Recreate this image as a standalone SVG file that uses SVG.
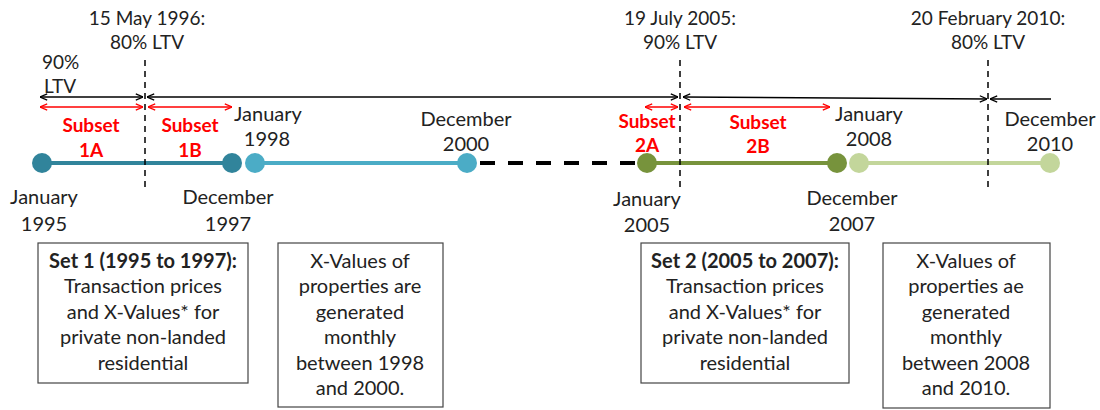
<svg xmlns="http://www.w3.org/2000/svg" width="1100" height="410" viewBox="0 0 1100 410">
<defs>
<style>
text{font-family:Lato,"Liberation Sans",sans-serif;font-size:20px;fill:#222}
.c{text-anchor:middle}
.t{font-size:19px}
.r{fill:#ff0000;font-weight:bold;font-size:19px;text-anchor:middle}
.b{font-weight:bold}
.vd{stroke:#000;stroke-width:1.5;stroke-dasharray:6 5;fill:none}
.bk{stroke:#000;stroke-width:1.5;fill:none}
.rd{stroke:#ff0000;stroke-width:1.5;fill:none}
.box{fill:#fff;stroke:#444;stroke-width:1.2}
</style>
<marker id="ak" viewBox="0 0 10 10" refX="10" refY="5" markerWidth="8" markerHeight="8" markerUnits="userSpaceOnUse" orient="auto-start-reverse">
<path d="M1,1 L10,5 L1,9" fill="none" stroke="#000" stroke-width="1.6"/>
</marker>
<marker id="ar" viewBox="0 0 10 10" refX="10" refY="5" markerWidth="8" markerHeight="8" markerUnits="userSpaceOnUse" orient="auto-start-reverse">
<path d="M1,1 L10,5 L1,9" fill="none" stroke="#ff0000" stroke-width="1.6"/>
</marker>
</defs>
<rect width="1100" height="410" fill="#fff"/>

<g id="connectors">
<line x1="42" y1="163" x2="232" y2="163" stroke="#31849B" stroke-width="4"/>
<line x1="255" y1="163" x2="467" y2="163" stroke="#4BACC6" stroke-width="4"/>
<line x1="480" y1="163" x2="640" y2="163" stroke="#000" stroke-width="4" stroke-dasharray="15 13"/>
<line x1="647" y1="163" x2="837" y2="163" stroke="#77933C" stroke-width="4"/>
<line x1="859" y1="163" x2="1050" y2="163" stroke="#C3D69B" stroke-width="4"/>
<line class="vd" x1="145" y1="60" x2="145" y2="190"/>
<line class="vd" x1="680" y1="60" x2="680" y2="190"/>
<line class="vd" x1="988" y1="60" x2="988" y2="188"/>
<line class="bk" x1="40" y1="97" x2="143" y2="97" marker-start="url(#ak)" marker-end="url(#ak)"/>
<line class="bk" x1="147" y1="97" x2="678" y2="97" marker-start="url(#ak)" marker-end="url(#ak)"/>
<line class="bk" x1="683" y1="97" x2="987" y2="99" marker-start="url(#ak)" marker-end="url(#ak)"/>
<line class="bk" x1="990" y1="99" x2="1051" y2="99" marker-start="url(#ak)"/>
<line class="rd" x1="40" y1="107" x2="143" y2="107" marker-start="url(#ar)" marker-end="url(#ar)"/>
<line class="rd" x1="148" y1="107" x2="232" y2="107" marker-start="url(#ar)" marker-end="url(#ar)"/>
<line class="rd" x1="645" y1="107" x2="678" y2="107" marker-start="url(#ar)" marker-end="url(#ar)"/>
<line class="rd" x1="684" y1="107" x2="830" y2="107" marker-start="url(#ar)" marker-end="url(#ar)"/>
</g>

<g id="points">
<circle cx="42" cy="163" r="10" fill="#31849B"/>
<circle cx="232" cy="163" r="10" fill="#31849B"/>
<circle cx="255" cy="163" r="10" fill="#4BACC6"/>
<circle cx="467" cy="163" r="10" fill="#4BACC6"/>
<circle cx="647" cy="163" r="10" fill="#77933C"/>
<circle cx="837" cy="163" r="10" fill="#77933C"/>
<circle cx="859" cy="163" r="10" fill="#C3D69B"/>
<circle cx="1050" cy="163" r="10" fill="#C3D69B"/>
</g>

<g id="events">
<text class="c t" x="147" y="25">15 May 1996:</text>
<text class="c t" x="147" y="49">80% LTV</text>
<text class="t" x="42" y="69">90%</text>
<text class="t" x="44" y="93">LTV</text>
<text class="c t" x="680" y="25">19 July 2005:</text>
<text class="c t" x="680" y="49">90% LTV</text>
<text class="c t" x="988" y="25">20 February 2010:</text>
<text class="c t" x="988" y="49">80% LTV</text>
</g>

<g id="subsets">
<text class="r" x="91" y="132">Subset</text>
<text class="r" x="91" y="157">1A</text>
<text class="r" x="190" y="132">Subset</text>
<text class="r" x="190" y="157">1B</text>
<text class="r" x="647" y="128">Subset</text>
<text class="r" x="647" y="152">2A</text>
<text class="r" x="758" y="129">Subset</text>
<text class="r" x="758" y="153">2B</text>
</g>

<g id="dates">
<text class="c" x="44" y="204">January</text>
<text class="c" x="44" y="231">1995</text>
<text class="c" x="228" y="204">December</text>
<text class="c" x="228" y="231">1997</text>
<text x="234" y="121">January</text>
<text class="c" x="267" y="146">1998</text>
<text class="c" x="466" y="126">December</text>
<text class="c" x="466" y="151">2000</text>
<text class="c" x="647" y="206">January</text>
<text class="c" x="647" y="232">2005</text>
<text class="c" x="852" y="205">December</text>
<text class="c" x="852" y="231">2007</text>
<text class="c" x="869" y="121">January</text>
<text class="c" x="869" y="146">2008</text>
<text class="c" x="1050" y="126">December</text>
<text class="c" x="1050" y="151">2010</text>
</g>

<g id="box1">
<rect class="box" x="38" y="243" width="210" height="140"/>
<text class="c b" x="143" y="268">Set 1 (1995 to 1997):</text>
<text class="c" x="143" y="293">Transaction prices</text>
<text class="c" x="143" y="319">and X-Values* for</text>
<text class="c" x="143" y="344">private non-landed</text>
<text class="c" x="143" y="370">residential</text>
</g>

<g id="box2">
<rect class="box" x="278" y="243" width="165" height="164"/>
<text class="c" x="360" y="268">X-Values of</text>
<text class="c" x="360" y="293">properties are</text>
<text class="c" x="360" y="319">generated</text>
<text class="c" x="360" y="344">monthly</text>
<text class="c" x="360" y="370">between 1998</text>
<text class="c" x="360" y="395">and 2000.</text>
</g>

<g id="box3">
<rect class="box" x="641" y="243" width="208" height="140"/>
<text class="c b" x="745" y="268">Set 2 (2005 to 2007):</text>
<text class="c" x="745" y="293">Transaction prices</text>
<text class="c" x="745" y="319">and X-Values* for</text>
<text class="c" x="745" y="344">private non-landed</text>
<text class="c" x="745" y="370">residential</text>
</g>

<g id="box4">
<rect class="box" x="883" y="243" width="167" height="165"/>
<text class="c" x="966" y="268">X-Values of</text>
<text class="c" x="966" y="293">properties ae</text>
<text class="c" x="966" y="319">generated</text>
<text class="c" x="966" y="344">monthly</text>
<text class="c" x="966" y="370">between 2008</text>
<text class="c" x="966" y="395">and 2010.</text>
</g>
</svg>
